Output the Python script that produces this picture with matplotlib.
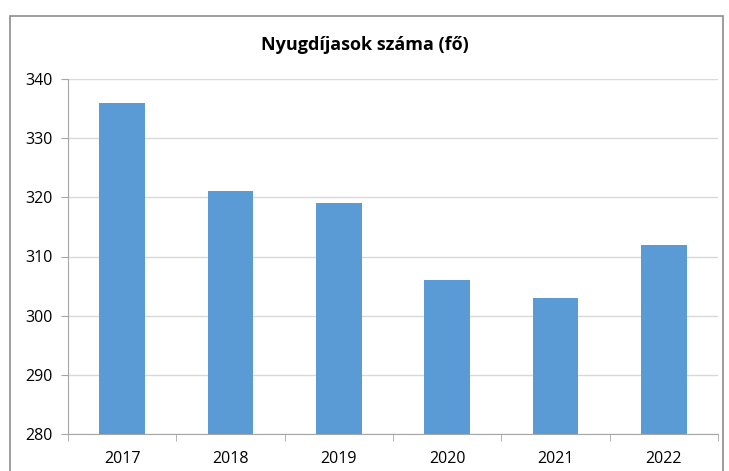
import matplotlib.pyplot as plt
from matplotlib.patches import Rectangle

years = ['2017', '2018', '2019', '2020', '2021', '2022']
pensioners = [336, 321, 319, 306, 303, 312]
y_ticks = [280, 290, 300, 310, 320, 330, 340]

plt.rcParams['font.family'] = ['Open Sans', 'DejaVu Sans']

fig = plt.figure(figsize=(7.29, 4.71), dpi=100)
fig.patches.append(Rectangle((10 / 729, -0.05), 713 / 729, 1.05 - 16 / 471,
                             transform=fig.transFigure, fill=False,
                             edgecolor='#8c8c8c', linewidth=1.2))

ax = fig.add_axes([68 / 729, 1 - 434 / 471, 650 / 729, 355 / 471])
x = range(len(years))
ax.bar(x, pensioners, width=0.42, color='#5B9BD5', zorder=3)

ax.set_ylim(280, 340)
ax.set_yticks(y_ticks)
ax.set_xlim(-0.5, len(years) - 0.5)
ax.set_xticks(list(x))
ax.set_xticklabels(years)
ax.set_xticks([i - 0.5 for i in range(len(years) + 1)], minor=True)

ax.grid(axis='y', color='#d9d9d9', linewidth=1, zorder=0)
for side in ['top', 'right']:
    ax.spines[side].set_visible(False)
for side in ['left', 'bottom']:
    ax.spines[side].set_color('#a6a6a6')

ax.tick_params(axis='x', which='major', length=0, pad=12, labelsize=11.5)
ax.tick_params(axis='x', which='minor', length=5, color='#a6a6a6')
ax.tick_params(axis='y', length=5, color='#a6a6a6', labelsize=11.5, pad=6)

fig.text(0.5, 1 - 45 / 471, 'Nyugdíjasok száma (fő)', ha='center', va='center',
         fontsize=13, fontweight='bold')

fig.savefig('out.png', dpi=100)
